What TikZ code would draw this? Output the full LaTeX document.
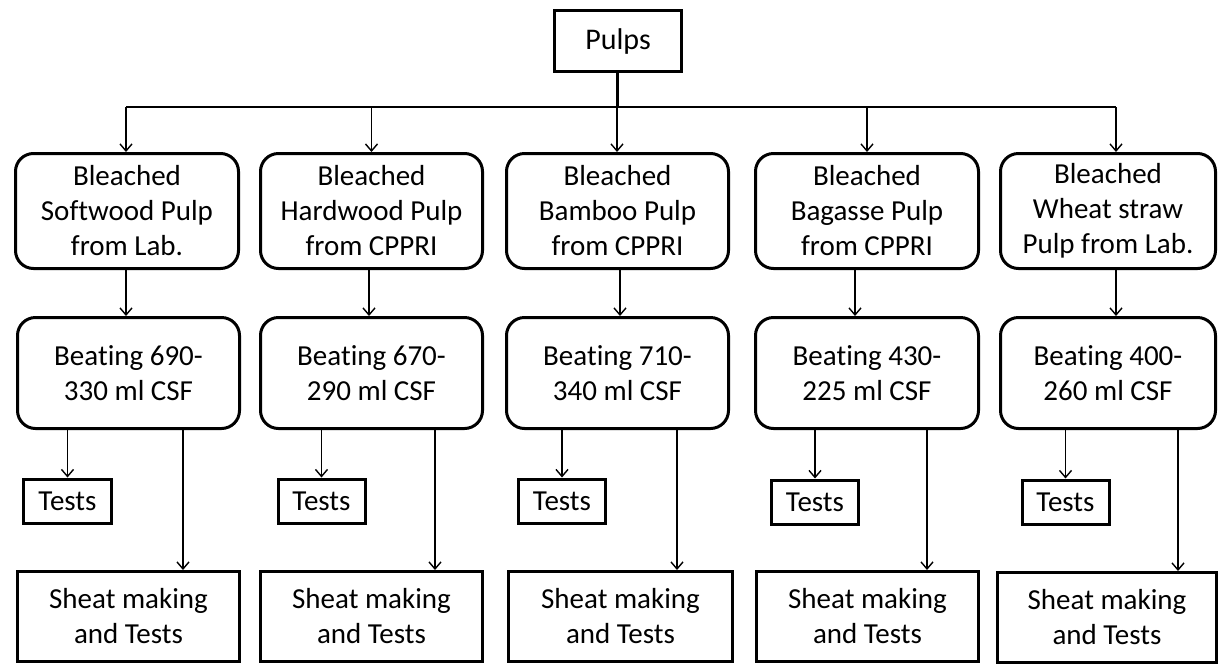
\documentclass[tikz,border=0pt]{standalone}
\usepackage{fontspec}
\setmainfont[Ligatures={NoCommon,NoRequired,NoContextual},RawFeature={-calt}]{Carlito}
\usetikzlibrary{arrows.meta}
\newcommand{\beatw}{Beat\kern0pt ing}
\begin{document}
\begin{tikzpicture}[x=1pt,y=-1pt,
  every node/.style={inner sep=0pt,align=center,font=\fontsize{29}{35}\selectfont},
  sqbox/.style={draw,line width=3pt},
  rbox/.style={draw,line width=3pt,rounded corners=18pt},
  ln/.style={line width=1.4pt},
  arr/.style={line width=1.4pt,-{Straight Barb[length=7pt,width=12pt,line width=1.4pt]}},
  thickln/.style={line width=3pt}]
\fill[white] (0,0) rectangle (1219,665);
\useasboundingbox (0,0) rectangle (1219,665);

\node[sqbox,minimum width=127,minimum height=61,font=\fontsize{30}{36}\selectfont] (pulps) at (618,41) {Pulps};

\node[rbox,minimum width=223,minimum height=115] (r1c1) at (127,211) {Bleached\\Softwood Pulp\\from Lab.};
\node[rbox,minimum width=222,minimum height=115] (r1c2) at (371.5,211) {Bleached\\Hardwood Pulp\\from CPPRI};
\node[rbox,minimum width=222,minimum height=115] (r1c3) at (617.5,211) {Bleached\\Bamboo Pulp\\from CPPRI};
\node[rbox,minimum width=223,minimum height=115] (r1c4) at (867,211) {Bleached\\Bagasse Pulp\\from CPPRI};
\node[rbox,minimum width=215,minimum height=115] (r1c5) at (1108,211) {Bleached\\Wheat straw\\Pulp from Lab.\vphantom{g}};

\node[rbox,minimum width=222,minimum height=111] (r2c1) at (128.5,373) {\beatw{} 690-\\330 ml CSF};
\node[rbox,minimum width=222,minimum height=111] (r2c2) at (371.5,373) {\beatw{} 670-\\290 ml CSF};
\node[rbox,minimum width=222,minimum height=111] (r2c3) at (617.5,373) {\beatw{} 710-\\340 ml CSF};
\node[rbox,minimum width=223,minimum height=111] (r2c4) at (867,373) {\beatw{} 430-\\225 ml CSF};
\node[rbox,minimum width=215,minimum height=111] (r2c5) at (1108,373) {\beatw{} 400-\\260 ml CSF};

\node[sqbox,minimum width=88,minimum height=44] (t1) at (67.5,501) {Tests};
\node[sqbox,minimum width=87,minimum height=44] (t2) at (321.5,501) {Tests};
\node[sqbox,minimum width=87,minimum height=44] (t3) at (562,501) {Tests};
\node[sqbox,minimum width=87,minimum height=44] (t4) at (815,502) {Tests};
\node[sqbox,minimum width=87,minimum height=44] (t5) at (1065.5,502) {Tests};

\node[sqbox,minimum width=222,minimum height=90] (s1) at (128.5,616.5) {Sheat making\\and Tests};
\node[sqbox,minimum width=222,minimum height=90] (s2) at (371.5,616.5) {Sheat making\\and Tests};
\node[sqbox,minimum width=224,minimum height=90] (s3) at (620.5,616.5) {Sheat making\\and Tests};
\node[sqbox,minimum width=222,minimum height=90] (s4) at (867.5,616.5) {Sheat making\\and Tests};
\node[sqbox,minimum width=219,minimum height=90] (s5) at (1107,617.5) {Sheat making\\and Tests};

% bus
\coordinate (busL) at (126,107);
\coordinate (busR) at (1116,107);
\coordinate (busM) at (617,107);
\draw[thickln] (pulps.south -| busM) -- (busM);
\draw[ln] (busL) -- (busR);
\draw[arr] (busL) -- (busL |- r1c1.north);
\draw[arr] (r1c2.north |- busL) -- (r1c2.north);
\draw[arr] (busM) -- (busM |- r1c3.north);
\draw[arr] (r1c4.north |- busL) -- (r1c4.north);
\draw[arr] (busR) -- (busR |- r1c5.north);

% row1 -> row2
\coordinate (d1) at (126,0);
\coordinate (d2) at (369,0);
\coordinate (d3) at (620,0);
\coordinate (d4) at (855,0);
\coordinate (d5) at (1116,0);
\foreach \i in {1,...,5}{
  \draw[arr] (r1c\i.south -| d\i) -- (r2c\i.north -| d\i);
}

% row2 -> tests
\foreach \i in {1,...,5}{
  \draw[arr] (r2c\i.south -| t\i.north) -- (t\i.north);
}

% row2 -> sheat
\coordinate (k1) at (183,0);
\coordinate (k2) at (435,0);
\coordinate (k3) at (677,0);
\coordinate (k4) at (927,0);
\coordinate (k5) at (1178,0);
\foreach \i in {1,...,5}{
  \draw[arr] (r2c\i.south -| k\i) -- (s\i.north -| k\i);
}
\end{tikzpicture}
\end{document}
